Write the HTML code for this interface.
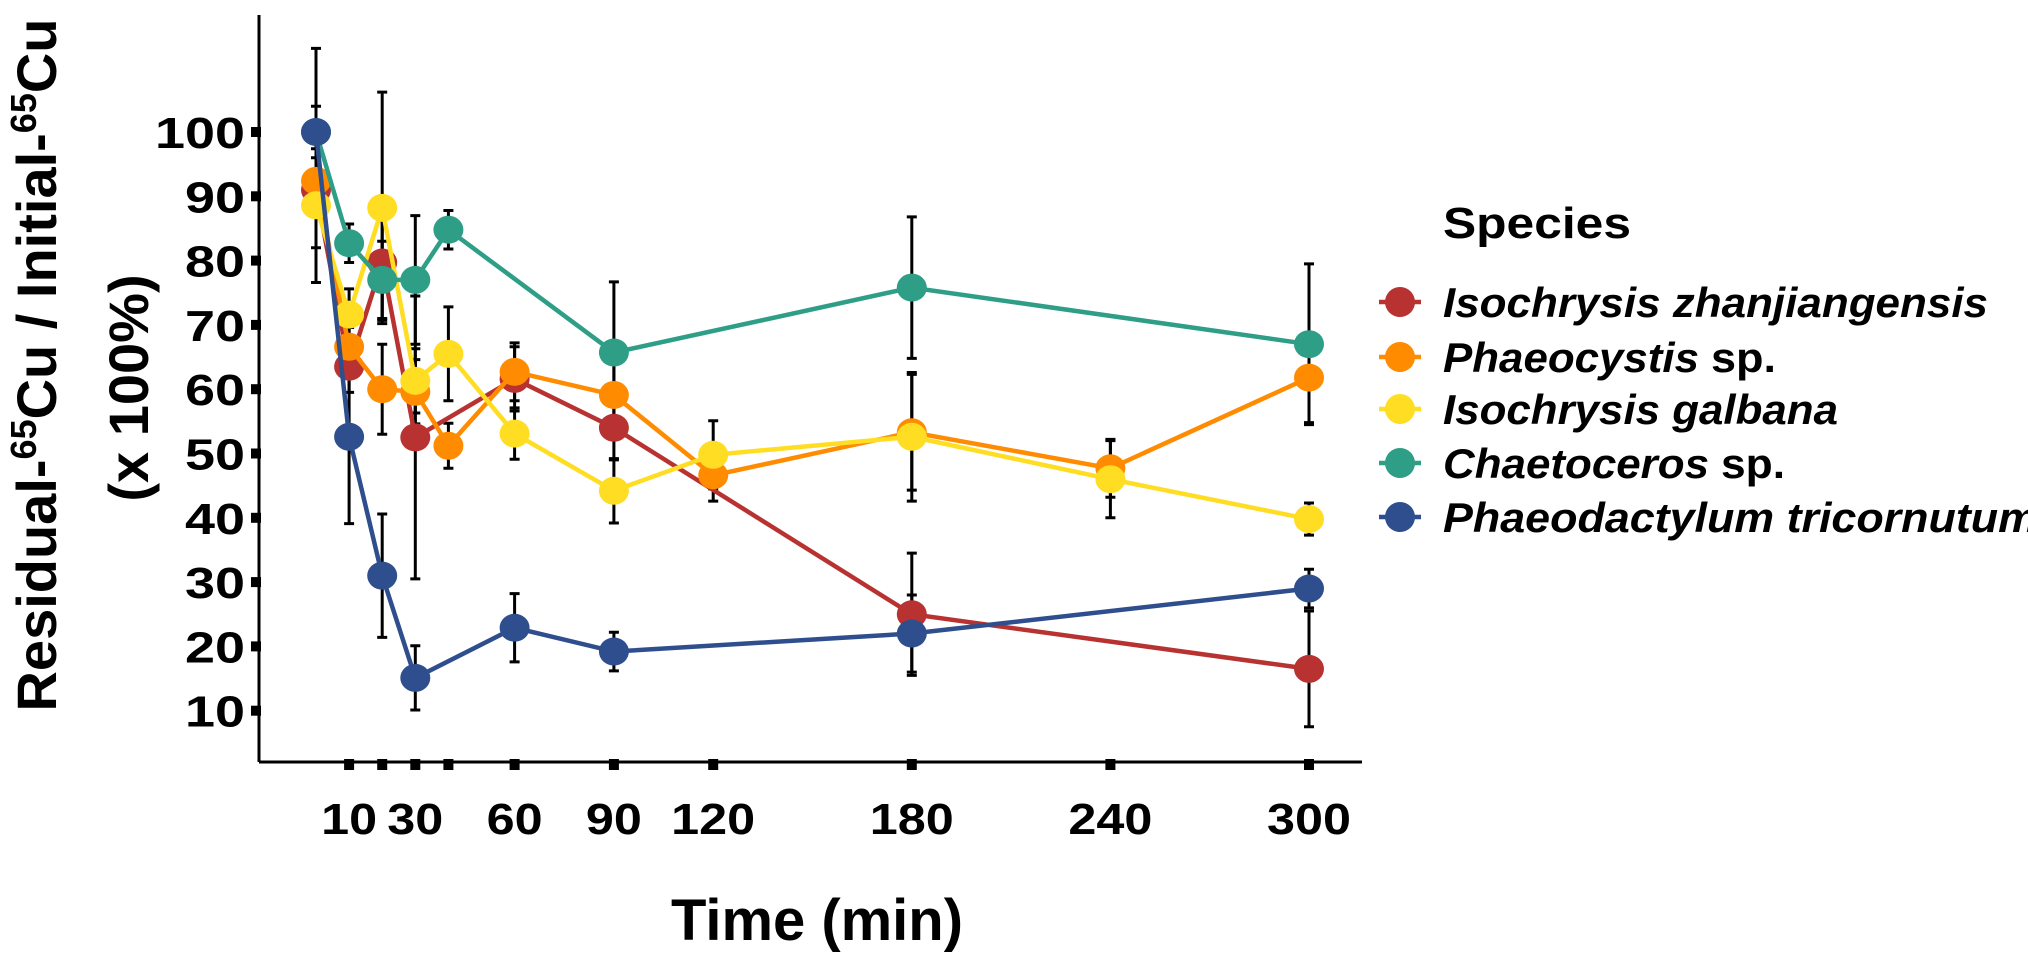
<!DOCTYPE html>
<html><head><meta charset="utf-8"><style>
html,body{margin:0;padding:0;background:#fff;}
svg{display:block;font-family:"Liberation Sans",Arial,sans-serif;}
</style></head><body>
<svg id="chart" width="2028" height="953" viewBox="0 0 2028 953">
<g id="axes"></g>
<g id="series"></g>
<g id="legend"></g>
<text transform="translate(56,365) rotate(-90)" text-anchor="middle" font-size="56" font-weight="bold">Residual-<tspan baseline-shift="super" font-size="36">65</tspan>Cu / Initial-<tspan baseline-shift="super" font-size="36">65</tspan>Cu</text>
<text transform="translate(148,388) rotate(-90)" text-anchor="middle" font-size="56" font-weight="bold">(x 100%)</text>
<text x="817" y="940" text-anchor="middle" font-size="58" font-weight="bold" textLength="292" lengthAdjust="spacingAndGlyphs">Time (min)</text>
</svg>
<script>
const times = [0,10,20,30,40,60,90,120,180,240,300];
const xTickValues = [10,20,30,40,60,90,120,180,240,300];
const xTickLabels = ["10","","30","","60","90","120","180","240","300"];
const yTickValues = [10,20,30,40,50,60,70,80,90,100];
const seriesNames = ["Isochrysis zhanjiangensis","Phaeocystis sp.","Isochrysis galbana","Chaetoceros sp.","Phaeodactylum tricornutum"];
const seriesColors = ["#b83232","#ff8c00","#ffdd22","#2e9e87","#2e4e8e"];
const redT  = [0,10,20,30,60,90,180,300];
const redV  = [91,63.5,79.7,52.5,61.6,54,25,16.5];
const redE  = [9,4,9,22,5,5,9.5,9];
const orT   = [0,10,20,30,40,60,90,120,180,240,300];
const orV   = [92.4,66.6,60,59.6,51.2,62.7,59.1,46.6,53.3,47.7,61.8];
const orE   = [5,3,7,5,3.5,4.5,6,4,9,4.5,7];
const yeT   = [0,10,20,30,40,60,90,120,180,240,300];
const yeV   = [88.6,71.6,88.2,61.3,65.5,53.1,44.2,49.8,52.6,46,39.8];
const yeE   = [12,4,18,5,7.3,4,5,5.3,10,6,2.5];
const teT   = [0,10,20,30,40,90,180,300];
const teV   = [100,82.7,77,77,84.8,65.7,75.8,67];
const teE   = [13,3,6,10,3,11,11,12.5];
const blT   = [0,10,20,30,60,90,180,300];
const blV   = [100,52.6,31,15.1,22.9,19.2,22,29];
const blE   = [4,13.5,9.6,5,5.3,3,6,3];

const X0=316, XS=3.31, Y0=775, YS=6.43;
const xS = t => X0 + t*XS;
const yS = v => Y0 - v*YS;
const NS="http://www.w3.org/2000/svg";
function mk(tag, attrs, parent){const e=document.createElementNS(NS,tag);for(const k in attrs)e.setAttribute(k,attrs[k]);parent.appendChild(e);return e;}

const axes=document.getElementById('axes');
let e;
e=mk('line',{x1:259,y1:15,x2:259,y2:762,stroke:'#000','stroke-width':3},axes);


e=mk('line',{x1:259,y1:762,x2:1362,y2:762,stroke:'#000','stroke-width':3},axes);


yTickValues.forEach(v=>{
  const t=mk('rect',{x:251,y:yS(v)-5,width:10,height:10,fill:'#000'},axes);
  
  
  const s=String(v);
  const l=mk('text',{x:245,y:yS(v)+16,'text-anchor':'end','font-size':44,'font-weight':'bold',textLength:s.length*30,lengthAdjust:'spacingAndGlyphs'},axes);
  l.textContent=s;
  
  
});
xTickValues.forEach((v,i)=>{
  const t=mk('rect',{x:xS(v)-5,y:759,width:10,height:11,fill:'#000'},axes);
  
  
  if(xTickLabels[i]){
    const s=xTickLabels[i];
    const l=mk('text',{x:xS(v),y:834,'text-anchor':'middle','font-size':44,'font-weight':'bold',textLength:s.length*28,lengthAdjust:'spacingAndGlyphs'},axes);
    l.textContent=s;
    
    
  }
});

const sg=document.getElementById('series');
const allT=[redT,orT,yeT,teT,blT], allV=[redV,orV,yeV,teV,blV], allE=[redE,orE,yeE,teE,blE];
const ebG=mk('g',{},sg);


allT.forEach((T,s)=>{
  T.forEach((t,i)=>{
    const x=xS(t), y1=yS(allV[s][i]+allE[s][i]), y2=yS(allV[s][i]-allE[s][i]);
    const p=mk('path',{d:`M${x},${y1}V${y2}M${x-5},${y1}H${x+5}M${x-5},${y2}H${x+5}`,stroke:'#000','stroke-width':3,fill:'none'},ebG);
    
    
  });
});
allT.forEach((T,s)=>{
  const g=mk('g',{},sg);
  
  
  const d=T.map((t,i)=>(i?'L':'M')+xS(t)+','+yS(allV[s][i])).join('');
  const p=mk('path',{d:d,stroke:seriesColors[s],'stroke-width':4.5,fill:'none'},g);
  
  
  T.forEach((t,i)=>{
    const c=mk('ellipse',{cx:xS(t),cy:yS(allV[s][i]),rx:15,ry:14,fill:seriesColors[s]},g);
    
    
  });
});

const lg=document.getElementById('legend');
const lt=mk('text',{x:1443,y:238,'font-size':44,'font-weight':'bold',textLength:188,lengthAdjust:'spacingAndGlyphs'},lg);
lt.textContent='Species';


const legY=[302,357,409,463,517];
const legW=[545,333,395,342,595];
const legW1=[0,256,0,266,0];
seriesNames.forEach((n,i)=>{
  const g=mk('g',{},lg);
  
  
  mk('line',{x1:1379,y1:legY[i],x2:1421,y2:legY[i],stroke:seriesColors[i],'stroke-width':4.5},g);
  mk('ellipse',{cx:1400,cy:legY[i],rx:15,ry:15,fill:seriesColors[i]},g);
  const parts=n.split(' ');
  if(parts[1]==='sp.'){
    const w1=legW1[i];
    const a=mk('text',{x:1443,y:legY[i]+15,'font-size':42,'font-weight':'bold','font-style':'italic',textLength:w1,lengthAdjust:'spacingAndGlyphs'},g);
    a.textContent=parts[0];
    const b=mk('text',{x:1443+w1+12,y:legY[i]+15,'font-size':42,'font-weight':'bold',textLength:legW[i]-w1-12,lengthAdjust:'spacingAndGlyphs'},g);
    b.textContent='sp.';
  } else {
    const a=mk('text',{x:1443,y:legY[i]+15,'font-size':42,'font-weight':'bold','font-style':'italic',textLength:legW[i],lengthAdjust:'spacingAndGlyphs'},g);
    a.textContent=n;
  }
});
</script>
</body></html>
